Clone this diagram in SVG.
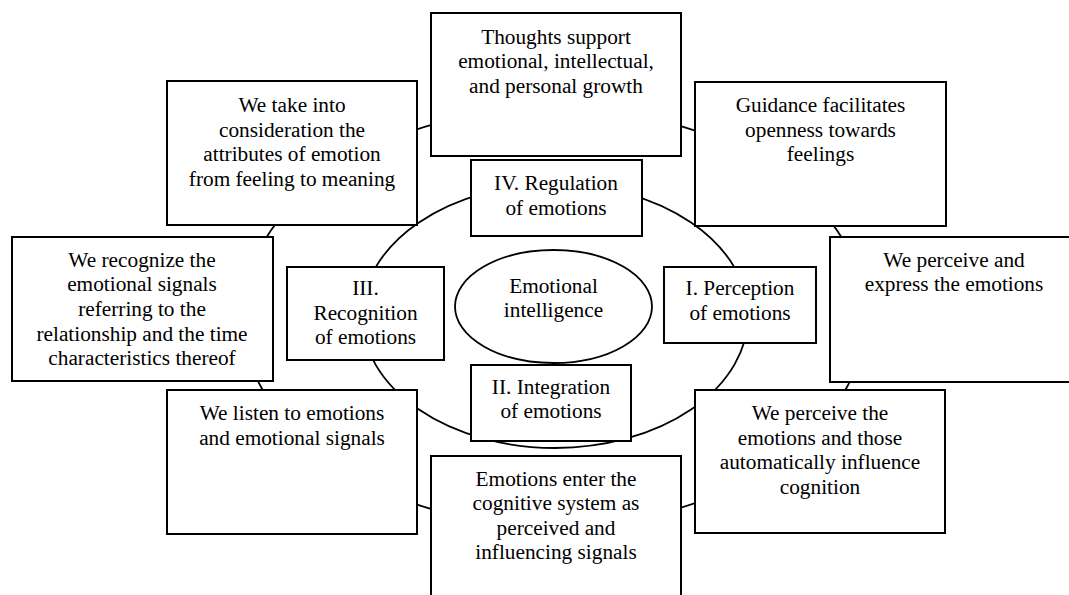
<svg xmlns="http://www.w3.org/2000/svg" width="1069" height="595" viewBox="0 0 1069 595">
<style>
.box{fill:#fff;stroke:#000;stroke-width:2}
.ring{fill:none;stroke:#000;stroke-width:1.8}
.core{fill:#fff;stroke:#000;stroke-width:1.8}
text{font-family:"Liberation Serif","Times New Roman",serif;font-size:21.3px;fill:#000;text-anchor:middle}
</style>
<rect width="1069" height="595" fill="#fff"/>
<g id="connectors">
<ellipse class="ring" cx="554" cy="317" rx="311" ry="209"/>
<ellipse class="ring" cx="555" cy="316" rx="193" ry="132"/>
</g>
<g id="n-take">
<rect class="box" x="167" y="81" width="250" height="144"/>
<text><tspan x="292" y="112">We take into</tspan><tspan x="292" y="136.5">consideration the</tspan><tspan x="292" y="161">attributes of emotion</tspan><tspan x="292" y="185.5">from feeling to meaning</tspan></text>
</g>
<g id="n-thoughts">
<rect class="box" x="431" y="13" width="250" height="143"/>
<text><tspan x="556" y="43.5">Thoughts support</tspan><tspan x="556" y="68">emotional, intellectual,</tspan><tspan x="556" y="92.5">and personal growth</tspan></text>
</g>
<g id="n-guidance">
<rect class="box" x="695" y="82" width="251" height="144"/>
<text><tspan x="820.5" y="112">Guidance facilitates</tspan><tspan x="820.5" y="136.5">openness towards</tspan><tspan x="820.5" y="161">feelings</tspan></text>
</g>
<g id="n-recognize">
<rect class="box" x="12" y="237" width="261" height="144"/>
<text><tspan x="142" y="266.5">We recognize the</tspan><tspan x="142" y="291">emotional signals</tspan><tspan x="142" y="316">referring to the</tspan><tspan x="142" y="340.5">relationship and the time</tspan><tspan x="142" y="365">characteristics thereof</tspan></text>
</g>
<g id="n-express">
<rect class="box" x="830" y="237" width="248" height="145"/>
<text><tspan x="954" y="266.5">We perceive and</tspan><tspan x="954" y="291">express the emotions</tspan></text>
</g>
<g id="n-listen">
<rect class="box" x="167" y="390" width="250" height="144"/>
<text><tspan x="292" y="420">We listen to emotions</tspan><tspan x="292" y="444.5">and emotional signals</tspan></text>
</g>
<g id="n-enter">
<rect class="box" x="431" y="456" width="250" height="150"/>
<text><tspan x="556" y="486">Emotions enter the</tspan><tspan x="556" y="510">cognitive system as</tspan><tspan x="556" y="534.5">perceived and</tspan><tspan x="556" y="559">influencing signals</tspan></text>
</g>
<g id="n-automatic">
<rect class="box" x="695" y="390" width="250" height="143"/>
<text><tspan x="820" y="420">We perceive the</tspan><tspan x="820" y="444.5">emotions and those</tspan><tspan x="820" y="469">automatically influence</tspan><tspan x="820" y="493.5">cognition</tspan></text>
</g>
<g id="n-regulation">
<rect class="box" x="471" y="160" width="171" height="76"/>
<text><tspan x="556" y="190">IV. Regulation</tspan><tspan x="556" y="215">of emotions</tspan></text>
</g>
<g id="n-recognition">
<rect class="box" x="287" y="267" width="157" height="93"/>
<text><tspan x="365.5" y="295">III.</tspan><tspan x="365.5" y="319.5">Recognition</tspan><tspan x="365.5" y="344">of emotions</tspan></text>
</g>
<g id="n-perception">
<rect class="box" x="664" y="267" width="152" height="76"/>
<text><tspan x="740" y="295">I. Perception</tspan><tspan x="740" y="319.5">of emotions</tspan></text>
</g>
<g id="n-integration">
<rect class="box" x="471" y="365" width="160" height="76"/>
<text><tspan x="551" y="394">II. Integration</tspan><tspan x="551" y="418">of emotions</tspan></text>
</g>
<g id="n-core">
<ellipse class="core" cx="553.5" cy="306.5" rx="98.5" ry="56.5"/>
<text><tspan x="553.5" y="293">Emotional</tspan><tspan x="553.5" y="317">intelligence</tspan></text>
</g>
</svg>
